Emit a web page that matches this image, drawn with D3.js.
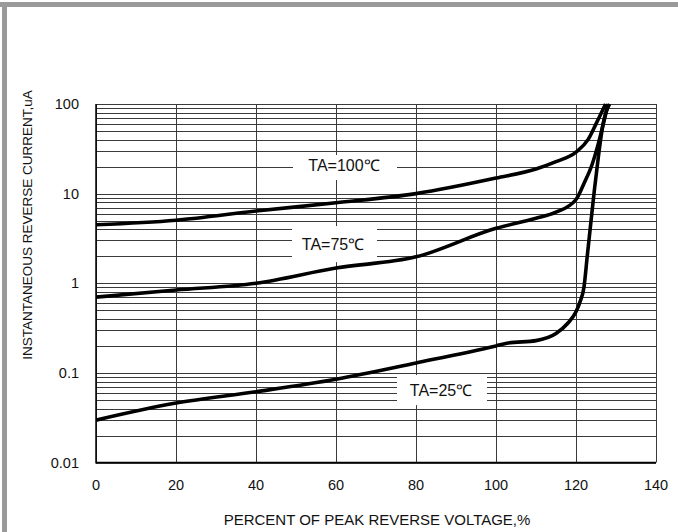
<!DOCTYPE html>
<html><head><meta charset="utf-8">
<script src="https://cdn.jsdelivr.net/npm/d3@7"></script>
<style>body{margin:0;background:#fff}svg{display:block;font-family:"Liberation Sans",Arial,sans-serif}</style>
</head><body><svg id="c" width="678" height="532"></svg>
<script>
const xTicks = [0,20,40,60,80,100,120,140];
const yTicks = [0.01,0.1,1,10,100];
const yTickLabels = ["0.01","0.1","1","10","100"];
const ta100 = [[0,4.5],[20,5.05],[40,6.4],[60,7.9],[80,10],[100,14.9],[110,18.8],[115,22.7],[120,29],[123,40],[125,60],[127.4,100]];
const ta75 = [[0,0.70],[20,0.84],[40,1.0],[60,1.48],[80,1.97],[100,4.1],[110,5.3],[115,6.2],[120,8.6],[122,13],[124,21],[125.5,35],[128,100]];
const ta25 = [[0,0.0297],[20,0.046],[40,0.0616],[60,0.085],[80,0.129],[100,0.2],[103,0.215],[110,0.229],[115,0.275],[118,0.36],[120,0.48],[121,0.62],[122,0.91],[122.8,1.98],[123.7,4.7],[124.6,11],[125.6,26],[126.8,61],[128.4,100]];
const labels = [
  {text:"TA=100℃", x:62, y:20.8, box:[49.25,75.25,14.2,27]},
  {text:"TA=75℃", x:59.25, y:2.74, box:[49,70.25,1.72,4.35]},
  {text:"TA=25℃", x:86.25, y:0.0645, box:[75.25,97.75,0.0437,0.0945]}
];

const svg = d3.select("#c");
const L=96,R=656,T=104,B=462.5;
const x = d3.scaleLinear().domain([0,140]).range([L,R]);
const y = d3.scaleLog().domain([0.01,100]).range([B,T]);

svg.append("rect").attr("x",0).attr("y",2).attr("width",678).attr("height",5).attr("fill","#9a9a9a");
svg.append("rect").attr("x",2).attr("y",2).attr("width",5).attr("height",530).attr("fill","#9a9a9a");

const g = svg.append("g");
const minor = [];
for (let d=0.01; d<100; d*=10) for (let k=1;k<10;k++) minor.push(+(d*k).toPrecision(3));
minor.push(100);
g.selectAll("line.h").data(minor).join("line")
  .attr("x1",L).attr("x2",R).attr("y1",d=>Math.round(y(d))+0.5).attr("y2",d=>Math.round(y(d))+0.5)
  .attr("stroke","#3a3a3a").attr("stroke-width",1);
g.selectAll("line.v").data(xTicks).join("line")
  .attr("y1",T).attr("y2",B).attr("x1",d=>Math.round(x(d))+0.5).attr("x2",d=>Math.round(x(d))+0.5)
  .attr("stroke","#3a3a3a").attr("stroke-width",1);

labels.forEach(l=>{
  svg.append("rect").attr("x",x(l.box[0])).attr("width",x(l.box[1])-x(l.box[0]))
    .attr("y",y(l.box[3])).attr("height",y(l.box[2])-y(l.box[3])).attr("fill","#fff");
});

svg.append("line").attr("x1",L).attr("x2",L).attr("y1",T).attr("y2",B+1).attr("stroke","#000").attr("stroke-width",1.5);
svg.append("line").attr("x1",L).attr("x2",R).attr("y1",B).attr("y2",B).attr("stroke","#000").attr("stroke-width",1.5);

svg.append("clipPath").attr("id","clip").append("rect").attr("x",L).attr("y",T-1).attr("width",R-L).attr("height",B-T+1);
const line = d3.line().x(d=>x(d[0])).y(d=>y(d[1])).curve(d3.curveMonotoneX);
const cg = svg.append("g").attr("clip-path","url(#clip)");
[ta100,ta75,ta25].forEach(s=>{
  cg.append("path").attr("d",line(s)).attr("fill","none").attr("stroke","#000").attr("stroke-width",3.6).attr("stroke-linejoin","round");
});

labels.forEach(l=>{
  svg.append("text").attr("x",x(l.x)).attr("y",y(l.y)).attr("text-anchor","middle").attr("dy","0.36em")
    .attr("font-size",16).attr("fill","#111").text(l.text);
});

svg.selectAll("text.xt").data(xTicks).join("text")
  .attr("x",d=>x(d)).attr("y",485).attr("dy","0.35em").attr("text-anchor","middle").attr("font-size",14.5).attr("fill","#111").text(d=>d);
svg.selectAll("text.yt").data(yTicks).join("text")
  .attr("x",79).attr("y",d=>y(d)).attr("dy","0.35em").attr("text-anchor","end").attr("font-size",14.5).attr("fill","#111").text((d,i)=>yTickLabels[i]);

svg.append("text").attr("x",377).attr("y",520).attr("dy","0.35em").attr("text-anchor","middle").attr("font-size",15).attr("fill","#111")
  .text("PERCENT OF PEAK REVERSE VOLTAGE,%");
svg.append("text").attr("transform","translate(27,225) rotate(-90)").attr("dy","0.35em").attr("text-anchor","middle").attr("font-size",13.5).attr("fill","#111")
  .text("INSTANTANEOUS REVERSE CURRENT,uA");
</script></body></html>
